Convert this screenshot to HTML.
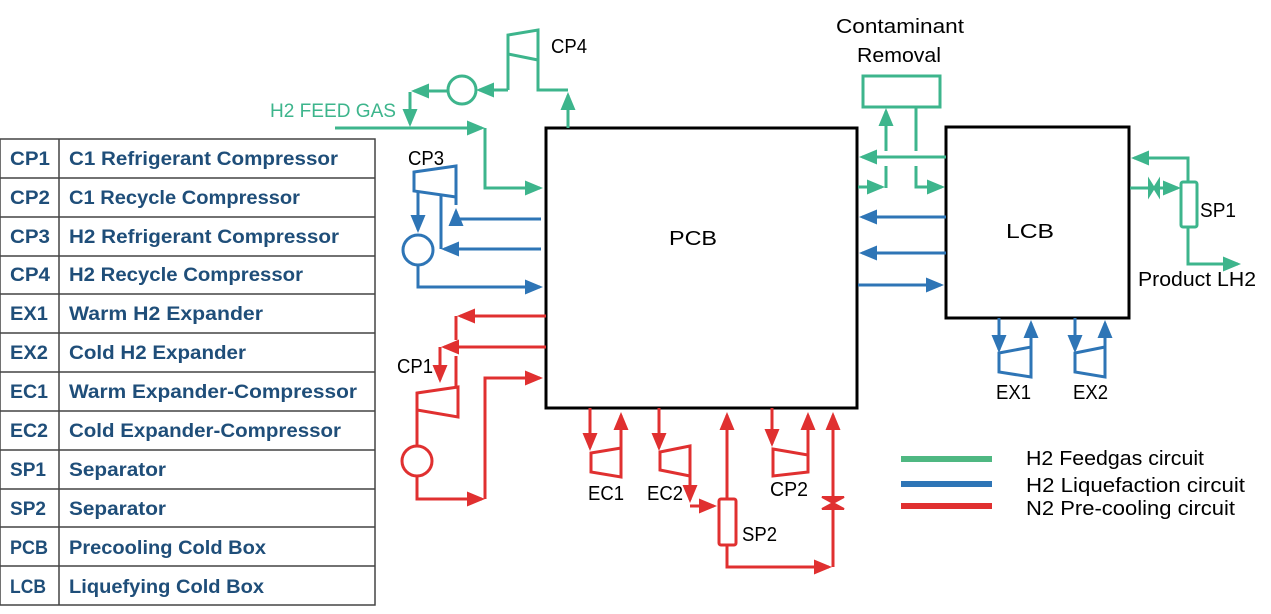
<!DOCTYPE html>
<html><head><meta charset="utf-8"><style>
body{margin:0;background:#fff}
svg{display:block}
text{font-family:"Liberation Sans",sans-serif}
.t{font-size:19px;font-weight:bold;fill:#1f4e79}
.l{font-size:20px;fill:#000}
.g{stroke:#3db58c;stroke-width:3;fill:none}
.b{stroke:#2e75b6;stroke-width:3;fill:none}
.r{stroke:#e03030;stroke-width:3;fill:none}
</style></head><body>
<svg width="1271" height="614" viewBox="0 0 1271 614" xmlns="http://www.w3.org/2000/svg">
<defs>
<marker id="ag" markerWidth="6" markerHeight="6" refX="5" refY="3" orient="auto" markerUnits="strokeWidth"><path d="M0,0.5 L6,3 L0,5.5z" fill="#3db58c"/></marker>
<marker id="ab" markerWidth="6" markerHeight="6" refX="5" refY="3" orient="auto" markerUnits="strokeWidth"><path d="M0,0.5 L6,3 L0,5.5z" fill="#2e75b6"/></marker>
<marker id="ar" markerWidth="6" markerHeight="6" refX="5" refY="3" orient="auto" markerUnits="strokeWidth"><path d="M0,0.5 L6,3 L0,5.5z" fill="#e03030"/></marker>
</defs>
<!-- table -->
<g stroke="#444" stroke-width="1.5" fill="none">
<rect x="0" y="139" width="375" height="466"/>
<line x1="59" y1="139" x2="59" y2="605"/>
<line x1="0" y1="178" x2="375" y2="178"/><line x1="0" y1="217" x2="375" y2="217"/>
<line x1="0" y1="256" x2="375" y2="256"/><line x1="0" y1="294" x2="375" y2="294"/>
<line x1="0" y1="333" x2="375" y2="333"/><line x1="0" y1="372" x2="375" y2="372"/>
<line x1="0" y1="411" x2="375" y2="411"/><line x1="0" y1="450" x2="375" y2="450"/>
<line x1="0" y1="489" x2="375" y2="489"/><line x1="0" y1="527" x2="375" y2="527"/>
<line x1="0" y1="566" x2="375" y2="566"/>
</g>
<g class="t" lengthAdjust="spacingAndGlyphs">
<text x="10" y="165" textLength="40" lengthAdjust="spacingAndGlyphs">CP1</text><text x="69" y="165" textLength="269" lengthAdjust="spacingAndGlyphs">C1 Refrigerant Compressor</text>
<text x="10" y="204" textLength="40" lengthAdjust="spacingAndGlyphs">CP2</text><text x="69" y="204" textLength="231" lengthAdjust="spacingAndGlyphs">C1 Recycle Compressor</text>
<text x="10" y="243" textLength="40" lengthAdjust="spacingAndGlyphs">CP3</text><text x="69" y="243" textLength="270" lengthAdjust="spacingAndGlyphs">H2 Refrigerant Compressor</text>
<text x="10" y="281" textLength="40" lengthAdjust="spacingAndGlyphs">CP4</text><text x="69" y="281" textLength="234" lengthAdjust="spacingAndGlyphs">H2 Recycle Compressor</text>
<text x="10" y="320" textLength="38" lengthAdjust="spacingAndGlyphs">EX1</text><text x="69" y="320" textLength="194" lengthAdjust="spacingAndGlyphs">Warm H2 Expander</text>
<text x="10" y="359" textLength="38" lengthAdjust="spacingAndGlyphs">EX2</text><text x="69" y="359" textLength="177" lengthAdjust="spacingAndGlyphs">Cold H2 Expander</text>
<text x="10" y="398" textLength="38" lengthAdjust="spacingAndGlyphs">EC1</text><text x="69" y="398" textLength="288" lengthAdjust="spacingAndGlyphs">Warm Expander-Compressor</text>
<text x="10" y="437" textLength="38" lengthAdjust="spacingAndGlyphs">EC2</text><text x="69" y="437" textLength="272" lengthAdjust="spacingAndGlyphs">Cold Expander-Compressor</text>
<text x="10" y="476" textLength="36" lengthAdjust="spacingAndGlyphs">SP1</text><text x="69" y="476" textLength="97" lengthAdjust="spacingAndGlyphs">Separator</text>
<text x="10" y="515" textLength="36" lengthAdjust="spacingAndGlyphs">SP2</text><text x="69" y="515" textLength="97" lengthAdjust="spacingAndGlyphs">Separator</text>
<text x="10" y="554" textLength="38" lengthAdjust="spacingAndGlyphs">PCB</text><text x="69" y="554" textLength="197" lengthAdjust="spacingAndGlyphs">Precooling Cold Box</text>
<text x="10" y="593" textLength="36" lengthAdjust="spacingAndGlyphs">LCB</text><text x="69" y="593" textLength="195" lengthAdjust="spacingAndGlyphs">Liquefying Cold Box</text>
</g>
<!-- boxes -->
<rect x="546" y="128" width="311" height="280" fill="none" stroke="#000" stroke-width="3"/>
<rect x="946" y="127" width="183" height="191" fill="none" stroke="#000" stroke-width="3"/>
<text class="l" x="669" y="245" textLength="48" lengthAdjust="spacingAndGlyphs">PCB</text>
<text class="l" x="1006" y="238" textLength="48" lengthAdjust="spacingAndGlyphs">LCB</text>
<!-- green -->
<text x="270" y="117" style="font-size:19px;fill:#3db58c" textLength="126" lengthAdjust="spacingAndGlyphs">H2 FEED GAS</text>
<path class="g" d="M335,128 H482" marker-end="url(#ag)"/>
<path class="g" d="M485,128 V188 H540" marker-end="url(#ag)"/>
<path class="g" d="M410,92 V124" marker-end="url(#ag)"/>
<path class="g" d="M447,91 H414" marker-end="url(#ag)"/>
<circle class="g" cx="462" cy="90" r="14"/>
<path class="g" d="M508,90 H479" marker-end="url(#ag)"/>
<path class="g" d="M508,90 V35 L538,30 V60 L508,54"/>
<path class="g" d="M538,60 V90 H568"/>
<path class="g" d="M568,128 V95" marker-end="url(#ag)"/>
<text class="l" x="551" y="53" textLength="36" lengthAdjust="spacingAndGlyphs">CP4</text>
<text class="l" x="836" y="33" textLength="128" lengthAdjust="spacingAndGlyphs">Contaminant</text>
<text class="l" x="857" y="62" textLength="84" lengthAdjust="spacingAndGlyphs">Removal</text>
<rect class="g" x="863" y="76" width="77" height="31"/>
<path class="g" d="M946,157 H862" marker-end="url(#ag)"/>
<path class="g" d="M886,151 V111" marker-end="url(#ag)"/>
<path class="g" d="M858,187 H882" marker-end="url(#ag)"/>
<path class="g" d="M886,188 V166"/>
<path class="g" d="M916,107 V151"/>
<path class="g" d="M916,166 V187 H942" marker-end="url(#ag)"/>
<path class="g" d="M1188,182 V158 H1134" marker-end="url(#ag)"/>
<path class="g" d="M1130,188 H1178" marker-end="url(#ag)"/>
<path d="M1149,180 L1159,196 V180 L1149,196z" fill="#3db58c" stroke="#3db58c" stroke-width="2"/>
<rect class="g" x="1181" y="182" width="16" height="45" rx="2"/>
<path class="g" d="M1188,227 V264 H1238" marker-end="url(#ag)"/>
<text class="l" x="1200" y="217" textLength="36" lengthAdjust="spacingAndGlyphs">SP1</text>
<text class="l" x="1138" y="286" textLength="118" lengthAdjust="spacingAndGlyphs">Product LH2</text>
<!-- blue -->
<path class="b" d="M414,172 L456,166 V197 L414,191 Z"/>
<path class="b" d="M418,191 V230" marker-end="url(#ab)"/>
<circle class="b" cx="418" cy="250" r="15"/>
<path class="b" d="M418,265 V287 H540" marker-end="url(#ab)"/>
<path class="b" d="M456,197 V205"/>
<path class="b" d="M541,219 H456 V211" marker-end="url(#ab)"/>
<path class="b" d="M541,249 H444" marker-end="url(#ab)"/>
<path class="b" d="M441,249 V195"/>
<path class="b" d="M946,217 H862" marker-end="url(#ab)"/>
<path class="b" d="M946,253 H862" marker-end="url(#ab)"/>
<path class="b" d="M858,285 H941" marker-end="url(#ab)"/>
<path class="b" d="M999,318 V350" marker-end="url(#ab)"/>
<path class="b" d="M999,353 L1031,347 V377 L999,372 Z"/>
<path class="b" d="M1031,347 V323" marker-end="url(#ab)"/>
<path class="b" d="M1075,318 V350" marker-end="url(#ab)"/>
<path class="b" d="M1075,353 L1105,347 V377 L1075,372 Z"/>
<path class="b" d="M1105,347 V323" marker-end="url(#ab)"/>
<text class="l" x="996" y="399" textLength="35" lengthAdjust="spacingAndGlyphs">EX1</text>
<text class="l" x="1073" y="399" textLength="35" lengthAdjust="spacingAndGlyphs">EX2</text>
<text class="l" x="408" y="165" textLength="36" lengthAdjust="spacingAndGlyphs">CP3</text>
<!-- red -->
<path class="r" d="M546,316 H460" marker-end="url(#ar)"/>
<path class="r" d="M456,316 V340"/>
<path class="r" d="M546,347 H444" marker-end="url(#ar)"/>
<path class="r" d="M440,347 V380" marker-end="url(#ar)"/>
<path class="r" d="M456,356 V388"/>
<path class="r" d="M417,393 L458,387 V417 L417,410 Z"/>
<path class="r" d="M417,410 V446"/>
<circle class="r" cx="417" cy="461" r="15"/>
<path class="r" d="M417,476 V499 H482" marker-end="url(#ar)"/>
<path class="r" d="M485,499 V378 H540" marker-end="url(#ar)"/>
<text class="l" x="397" y="373" textLength="36" lengthAdjust="spacingAndGlyphs">CP1</text>
<path class="r" d="M590,408 V448" marker-end="url(#ar)"/>
<path class="r" d="M591,453 L621,448 V477 L591,472 Z"/>
<path class="r" d="M621,448 V415" marker-end="url(#ar)"/>
<path class="r" d="M659,408 V448" marker-end="url(#ar)"/>
<path class="r" d="M660,452 L690,446 V476 L660,470 Z"/>
<path class="r" d="M690,476 V500" marker-end="url(#ar)"/>
<path class="r" d="M690,506 H714" marker-end="url(#ar)"/>
<rect class="r" x="719" y="499" width="17" height="46" rx="2"/>
<path class="r" d="M727,499 V415" marker-end="url(#ar)"/>
<path class="r" d="M727,545 V567 H829" marker-end="url(#ar)"/>
<path class="r" d="M833,567 V415" marker-end="url(#ar)"/>
<path d="M822,497 L844,509 H822 L844,497z" fill="#e03030" stroke="#e03030" stroke-width="2"/>
<path class="r" d="M772,408 V444" marker-end="url(#ar)"/>
<path class="r" d="M773,449 L808,455 V472 L773,476 Z"/>
<path class="r" d="M808,455 V415" marker-end="url(#ar)"/>
<text class="l" x="588" y="500" textLength="36" lengthAdjust="spacingAndGlyphs">EC1</text>
<text class="l" x="647" y="500" textLength="36" lengthAdjust="spacingAndGlyphs">EC2</text>
<text class="l" x="770" y="496" textLength="38" lengthAdjust="spacingAndGlyphs">CP2</text>
<text class="l" x="742" y="541" textLength="35" lengthAdjust="spacingAndGlyphs">SP2</text>
<!-- legend -->
<line x1="901" y1="459" x2="992" y2="459" stroke="#4fb882" stroke-width="6"/>
<line x1="901" y1="484" x2="992" y2="484" stroke="#2e75b6" stroke-width="6"/>
<line x1="901" y1="506" x2="992" y2="506" stroke="#e03030" stroke-width="6"/>
<text class="l" x="1026" y="465" textLength="178" lengthAdjust="spacingAndGlyphs">H2 Feedgas circuit</text>
<text class="l" x="1026" y="492" textLength="219" lengthAdjust="spacingAndGlyphs">H2 Liquefaction circuit</text>
<text class="l" x="1026" y="515" textLength="209" lengthAdjust="spacingAndGlyphs">N2 Pre-cooling circuit</text>
</svg>
</body></html>
